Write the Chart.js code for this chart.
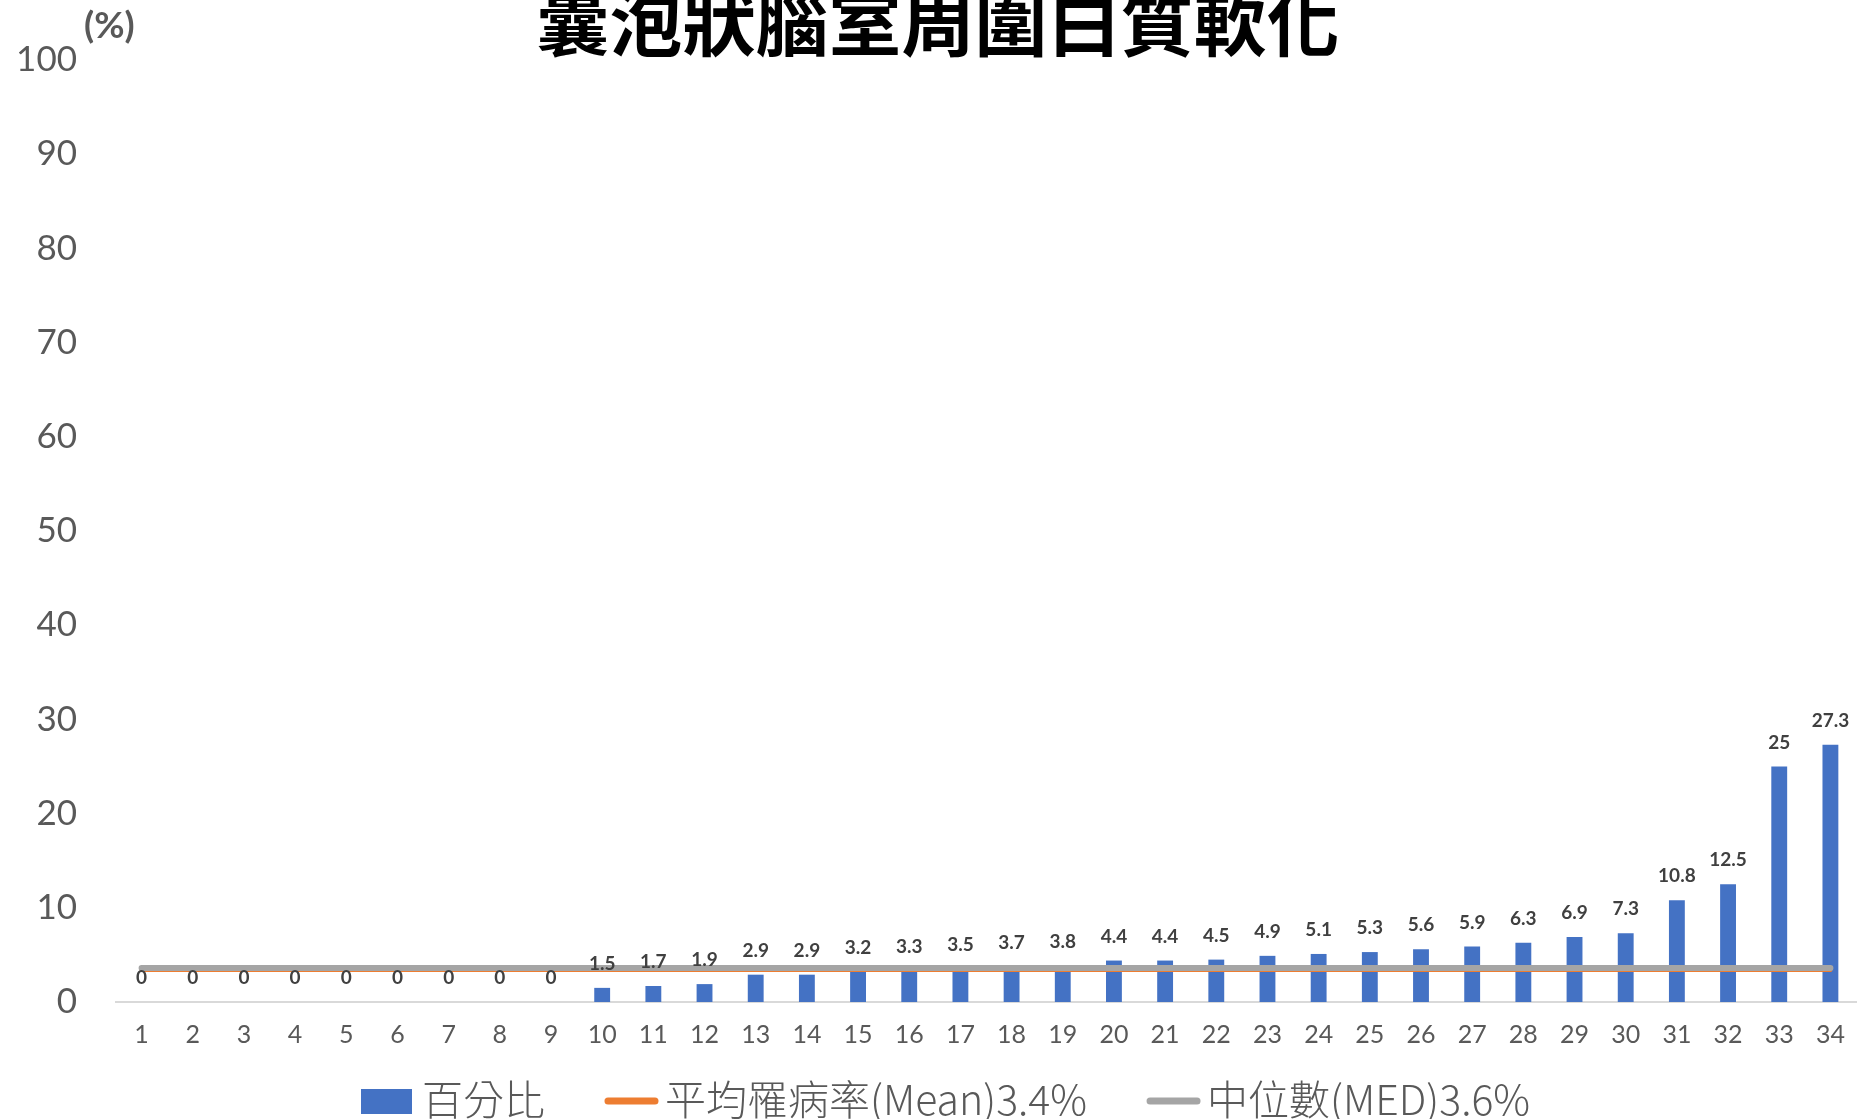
<!DOCTYPE html>
<html>
<head>
<meta charset="utf-8">
<script src="https://cdn.jsdelivr.net/npm/chart.js@4.4.0/dist/chart.umd.min.js"></script>
<style>
html, body { margin: 0; padding: 0; background: #fff; }
#wrap { width: 1858px; height: 1119px; position: relative; }
</style>
</head>
<body>
<div id="wrap"><canvas id="pvl-canvas"></canvas></div>
<script>
// data
var chartTitle = '囊泡狀腦室周圍白質軟化';
var unitLabel = '(%)';
var categories = ['1','2','3','4','5','6','7','8','9','10','11','12','13','14','15','16','17',
                  '18','19','20','21','22','23','24','25','26','27','28','29','30','31','32','33','34'];
var percentValues = [0, 0, 0, 0, 0, 0, 0, 0, 0, 1.5, 1.7, 1.9, 2.9, 2.9, 3.2, 3.3, 3.5,
                     3.7, 3.8, 4.4, 4.4, 4.5, 4.9, 5.1, 5.3, 5.6, 5.9, 6.3, 6.9, 7.3, 10.8, 12.5, 25, 27.3];
var meanValue = 3.4;
var medianValue = 3.6;
var seriesNames = ['百分比', '平均罹病率(Mean)3.4%', '中位數(MED)3.6%'];
var yMin = 0, yMax = 100, yStep = 10;

var numFont = 'Lato, "Noto Sans", sans-serif';
var cjkFont = '"Noto Sans CJK TC", "Noto Sans", sans-serif';

// value labels above the bars
var valueLabels = {
  id: 'valueLabels',
  afterDatasetsDraw: function (chart) {
    var ctx = chart.ctx;
    var meta = chart.getDatasetMeta(0);
    ctx.save();
    ctx.font = 'bold 19px ' + numFont;
    ctx.fillStyle = '#404040';
    ctx.textAlign = 'center';
    ctx.textBaseline = 'middle';
    meta.data.forEach(function (bar, i) {
      ctx.fillText(String(percentValues[i]), bar.x, bar.y - 24);
    });
    ctx.restore();
  }
};

// title, unit and legend row
var extras = {
  id: 'extras',
  afterDraw: function (chart) {
    var ctx = chart.ctx;
    var ds = chart.data.datasets;
    ctx.save();
    ctx.fillStyle = '#000';
    ctx.font = 'bold 73px ' + cjkFont;
    ctx.textAlign = 'center';
    ctx.textBaseline = 'alphabetic';
    ctx.fillText(chartTitle, 938, 50);

    ctx.fillStyle = '#595959';
    ctx.font = 'bold 37px ' + numFont;
    ctx.textAlign = 'left';
    ctx.textBaseline = 'middle';
    ctx.fillText(unitLabel, 84, 26);

    // legend
    ctx.font = '300 41px ' + cjkFont;
    var gap = 59, mark = 53, pad = 8;
    var widths = ds.map(function (d) { return mark + pad + ctx.measureText(d.label).width; });
    var x = 361;
    var ly = 1101;
    ds.forEach(function (d, i) {
      if (d.type === 'line') {
        ctx.strokeStyle = d.borderColor;
        ctx.lineWidth = 7;
        ctx.lineCap = 'round';
        ctx.beginPath();
        ctx.moveTo(x + 4, ly);
        ctx.lineTo(x + mark - 2, ly);
        ctx.stroke();
      } else {
        ctx.fillStyle = d.backgroundColor;
        ctx.fillRect(x, ly - 12, mark - 2, 25);
      }
      ctx.fillStyle = '#595959';
      ctx.fillText(d.label, x + mark + pad, ly - 2);
      x += widths[i] + gap;
    });
    ctx.restore();
  }
};

var ctx = document.getElementById('pvl-canvas').getContext('2d');
var chart = new Chart(ctx, {
  type: 'bar',
  data: {
    labels: categories,
    datasets: [{
      type: 'bar',
      label: seriesNames[0],
      data: percentValues,
      backgroundColor: '#4472c4',
      barPercentage: 0.31,
      categoryPercentage: 1,
      order: 3
    }, {
      type: 'line',
      label: seriesNames[1],
      data: [{ x: categories[0], y: meanValue }, { x: categories[categories.length - 1], y: meanValue }],
      borderColor: '#ed7d31',
      borderWidth: 4,
      borderCapStyle: 'round',
      pointRadius: 0,
      order: 2
    }, {
      type: 'line',
      label: seriesNames[2],
      data: [{ x: categories[0], y: medianValue }, { x: categories[categories.length - 1], y: medianValue }],
      borderColor: '#a5a5a5',
      borderWidth: 6,
      borderCapStyle: 'round',
      pointRadius: 0,
      order: 1
    }]
  },
  options: {
    responsive: true,
    maintainAspectRatio: false,
    animation: false,
    layout: { padding: { top: 55, right: 2, left: 0, bottom: 0 } },
    plugins: {
      legend: { display: false },
      tooltip: { enabled: false },
      title: { display: false }
    },
    scales: {
      x: {
        grid: { display: false, drawTicks: false },
        border: { display: true, color: '#d9d9d9', width: 2 },
        ticks: { color: '#595959', font: { family: numFont, size: 25, lineHeight: 2.64 }, padding: 0, maxRotation: 0, autoSkip: false },
        afterFit: function (s) { s.height = 117; }
      },
      y: {
        min: yMin, max: yMax,
        grid: { display: false, drawTicks: false },
        border: { display: false },
        ticks: { stepSize: yStep, color: '#595959', font: { family: numFont, size: 35 }, padding: 39 },
        afterFit: function (s) { s.width = 116; }
      }
    }
  },
  plugins: [valueLabels, extras]
});
</script>
</body>
</html>
